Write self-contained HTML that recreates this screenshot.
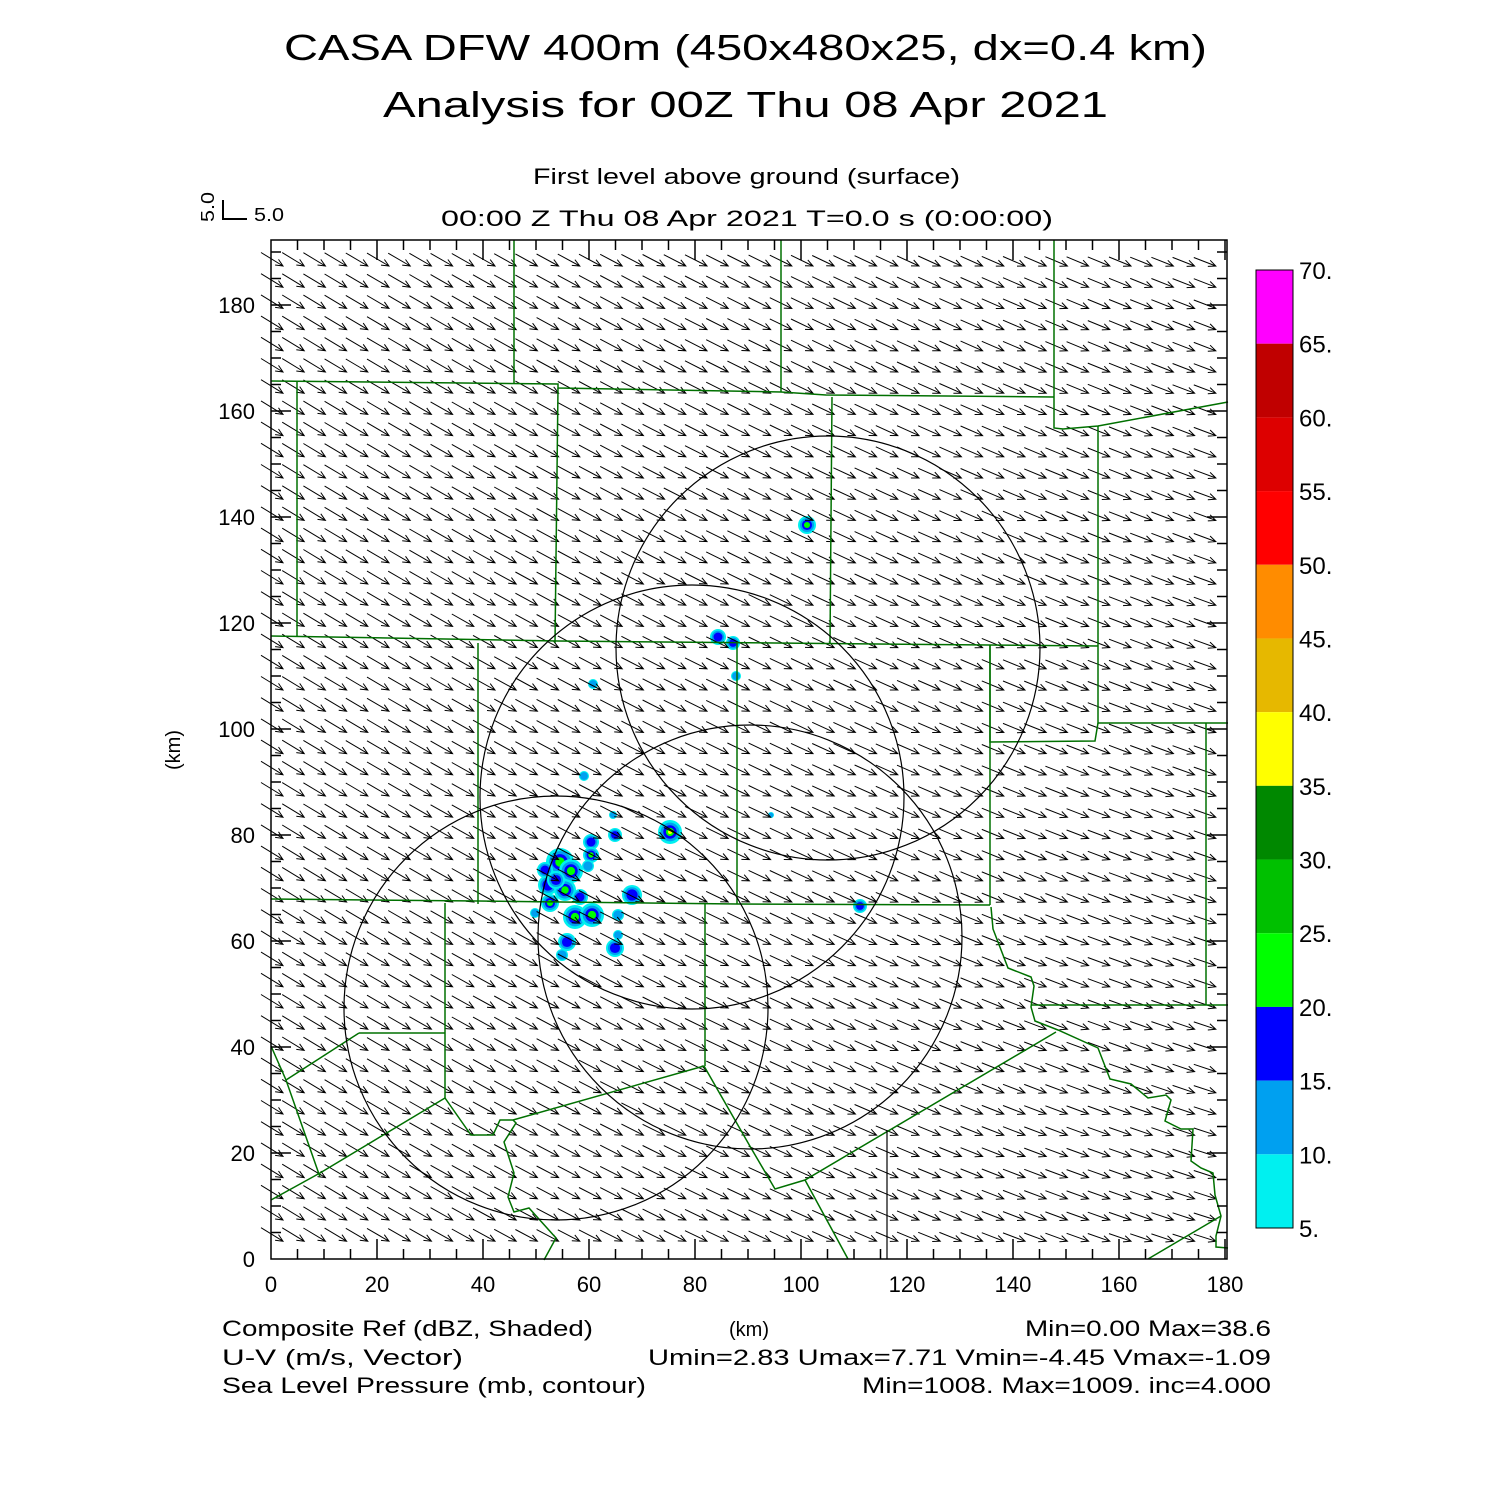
<!DOCTYPE html>
<html><head><meta charset="utf-8"><style>
html,body{margin:0;padding:0;background:#fff;}
svg{display:block;font-family:"Liberation Sans",sans-serif;}
</style></head><body>
<svg id="s" width="1500" height="1500" viewBox="0 0 1500 1500" xmlns="http://www.w3.org/2000/svg">
<rect width="1500" height="1500" fill="#fff"/>
<g font-size="36" fill="#000">
<text x="284" y="60" textLength="923" lengthAdjust="spacingAndGlyphs">CASA DFW 400m (450x480x25, dx=0.4 km)</text>
<text x="383" y="117" textLength="725" lengthAdjust="spacingAndGlyphs">Analysis for 00Z Thu 08 Apr 2021</text>
</g>
<g font-size="22" fill="#000">
<text x="533" y="184" textLength="427" lengthAdjust="spacingAndGlyphs">First level above ground (surface)</text>
<text x="441" y="226" textLength="612" lengthAdjust="spacingAndGlyphs">00:00 Z Thu 08 Apr 2021    T=0.0 s (0:00:00)</text>
<text x="254" y="221" font-size="18" textLength="30" lengthAdjust="spacingAndGlyphs">5.0</text>
<text transform="translate(214,222) rotate(-90)" font-size="18" textLength="30" lengthAdjust="spacingAndGlyphs">5.0</text>
<text transform="translate(180,770) rotate(-90)" font-size="20">(km)</text>
<text x="729" y="1336" font-size="20">(km)</text>
<text x="222" y="1336" textLength="371" lengthAdjust="spacingAndGlyphs">Composite Ref (dBZ, Shaded)</text>
<text x="222" y="1365" textLength="241" lengthAdjust="spacingAndGlyphs">U-V (m/s, Vector)</text>
<text x="222" y="1393" textLength="424" lengthAdjust="spacingAndGlyphs">Sea Level Pressure (mb, contour)</text>
<text x="1025" y="1336" textLength="246" lengthAdjust="spacingAndGlyphs">Min=0.00 Max=38.6</text>
<text x="648" y="1365" textLength="623" lengthAdjust="spacingAndGlyphs">Umin=2.83 Umax=7.71 Vmin=-4.45 Vmax=-1.09</text>
<text x="862" y="1393" textLength="409" lengthAdjust="spacingAndGlyphs">Min=1008. Max=1009. inc=4.000</text>
</g>
<path d="M223,200 V219 H247" stroke="#000" stroke-width="2" fill="none"/>
<g id="blobs"></g>
<g id="arrows" stroke="#000" stroke-width="1" fill="none"></g>
<g id="green" stroke="#007000" stroke-width="1.5" fill="none"></g>
<g stroke="#000" stroke-width="1.2" fill="none">
<circle cx="828" cy="648" r="212"/>
<circle cx="692" cy="797" r="212"/>
<circle cx="750" cy="937" r="212"/>
<circle cx="556" cy="1008" r="212"/>
<line x1="887" y1="1130" x2="887" y2="1259"/>
</g>
<g id="axis" stroke="#000" stroke-width="1.5" fill="none"></g>
<g id="cbar"></g>
<g id="labels" font-size="22" fill="#000"></g>
</svg>
<script>
var NS="http://www.w3.org/2000/svg";
function el(p,t,a,txt){var e=document.createElementNS(NS,t);for(var k in a)e.setAttribute(k,a[k]);if(txt!=null)e.textContent=txt;document.getElementById(p).appendChild(e);return e;}
var bl=[[560,862,14,2],[571,871,12,2],[548,885,10,1],[565,890,11,2],[580,897,8,1],[591,842,8,1],[591,855,8,2],[588,866,6,0],[615,835,7,1],[632,895,10,1],[670,832,12,3],[550,903,9,2],[575,917,12,2],[592,915,12,2],[567,942,9,1],[615,948,9,1],[562,955,6,0],[618,915,6,0],[618,935,5,0],[535,913,5,0],[613,815,4,0],[807,525,9,2],[718,637,8,1],[733,643,7,1],[736,676,5,0],[593,684,5,0],[584,776,5,0],[771,815,3,0],[860,906,7,1],[545,870,8,1],[556,880,9,1]];
var cols=["#00f0f0","#00a0f0","#0000ff","#00ff00","#ffff00"];
bl.forEach(function(b){for(var i=0;i<=b[3]+1&&i<5;i++){var r=b[2]*(1-i*0.22);if(r<2)r=2;el("blobs","circle",{cx:b[0],cy:b[1],r:r,fill:cols[i]});}});
var d="";
for(var j=0;j<=46;j++){for(var k=0;k<=44;k++){
 var hx=283+21.2*k, hy=266+21.2*j;
 var f=(hx-283)/933, g=j/46;
 var dx=22, dy=13.5-5*f-1.5*g*f;
 var tx=hx-dx, ty=hy-dy;
 var L=Math.sqrt(dx*dx+dy*dy), ux=dx/L, uy=dy/L;
 var a=0.42, hl=8;
 var c=Math.cos(a), s=Math.sin(a);
 var b1x=hx-hl*(ux*c-uy*s), b1y=hy-hl*(uy*c+ux*s);
 var b2x=hx-hl*(ux*c+uy*s), b2y=hy-hl*(uy*c-ux*s);
 d+="M"+tx.toFixed(1)+","+ty.toFixed(1)+"L"+hx.toFixed(1)+","+hy.toFixed(1)+"M"+b1x.toFixed(1)+","+b1y.toFixed(1)+"L"+hx.toFixed(1)+","+hy.toFixed(1)+"L"+b2x.toFixed(1)+","+b2y.toFixed(1);
}}
el("arrows","path",{d:d});
var G=[
"514,240 514,383","271,381 558,384 558,388 781,392 826,395 1054,397","781,240 781,392",
"1054,240 1054,428 1063,429 1098,426 1228,402","297,382 297,637","558,388 555,643","832,397 830,643",
"271,636 558,641 1098,646","1098,426 1098,723 1228,723","990,645 990,742 1095,741 1098,723",
"1206,723 1206,1005","1031,1005 1228,1005","478,643 478,904","737,643 737,904",
"271,899 478,901 737,904 990,905","990,645 990,905",
"991,907 993,929 1008,968 1031,977 1034,986 1031,1007 1035,1021 1058,1030 1098,1048 1110,1079 1131,1084 1148,1098 1166,1095 1171,1100 1165,1121 1181,1129 1193,1129 1191,1161 1201,1168 1213,1173 1215,1195 1221,1216 1216,1236 1216,1247 1228,1248",
"1056,1032 805,1180 775,1189 751,1148 704,1066","805,1180 848,1259","1221,1216 1148,1259",
"445,903 445,1098","359,1033 445,1033","359,1033 286,1080","271,1046 286,1080 320,1177","271,1200 320,1173 445,1098",
"445,1098 471,1135 493,1135 500,1120 513,1120 704,1066","705,904 705,1066",
"513,1120 516,1123 504,1142 514,1173 508,1197 514,1212 529,1208 556,1238 544,1260"];
G.forEach(function(p){el("green","polyline",{points:p});});
var ax="M271,240H1227V1259H271Z";
for(var v=0;v<=180;v+=5){var x=271+v*5.3,maj=v%20==0,l=maj?20:10;ax+="M"+x+",1259v-"+l+"M"+x+",240v"+l;}
for(var v=0;v<=190;v+=5){var y=1259-v*5.3,maj=v%20==0,l=maj?20:10;ax+="M271,"+y+"h"+l+"M1227,"+y+"h-"+l;}
el("axis","path",{d:ax});
for(var v=0;v<=180;v+=20){el("labels","text",{x:271+v*5.3,y:1292,"text-anchor":"middle"},""+v);el("labels","text",{x:255,y:1259-v*5.3+8,"text-anchor":"end"},""+v);}
var cc=["#ff00ff","#c00000","#dd0000","#ff0000","#ff8c00","#e6b800","#ffff00","#008800","#00c000","#00ff00","#0000ff","#00a0f0","#00f0f0"];
var h=(1228-270)/13;
for(var i=0;i<13;i++){el("cbar","rect",{x:1256,y:270+i*h,width:37,height:h,fill:cc[i]});}
el("cbar","rect",{x:1256,y:270,width:37,height:958,fill:"none",stroke:"#000","stroke-width":1});
for(var i=0;i<=13;i++){el("labels","text",{x:1299,y:270+i*h+9,"font-size":"24"},(70-5*i)+".");}
</script>
</body></html>
